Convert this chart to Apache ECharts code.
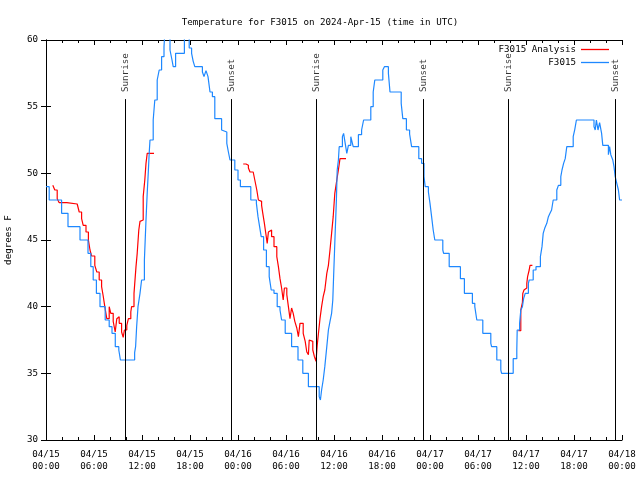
<!DOCTYPE html>
<html>
<head>
<meta charset="utf-8">
<script src="https://cdn.jsdelivr.net/npm/echarts@6/dist/echarts.min.js"></script>
<style>html,body{margin:0;padding:0;background:#fff}#c{width:640px;height:480px}</style>
</head>
<body>
<div id="c"></div>
<script>
// hours since 2024-04-15 00:00 UTC
var obsHours = [0.0,0.4,1.95,2.75,4.25,5.25,5.6,5.9,6.3,6.75,7.4,7.9,8.25,8.66,9.1,9.3,11.08,11.2,11.33,11.5,11.75,11.95,12.3,12.5,12.65,12.8,12.9,13.0,13.4,13.6,13.9,14.15,14.45,14.75,14.9,15.5,15.75,15.9,16.2,17.3,17.9,18.2,18.4,18.6,19.55,19.75,20.0,20.25,20.5,20.8,21.1,21.95,22.2,22.6,22.8,23.0,23.6,24.0,24.3,25.6,26.3,26.5,26.7,26.9,27.2,27.55,27.9,28.15,28.5,28.9,29.25,29.45,29.9,30.7,31.5,32.1,32.8,34.15,34.3,34.45,34.65,34.85,35.1,35.3,35.5,35.7,35.85,35.95,36.1,36.3,36.4,36.55,36.65,37.05,37.2,37.4,37.6,37.8,38.1,38.3,38.4,39.05,39.45,39.7,40.6,40.9,41.1,42.1,42.3,42.8,43.0,44.4,44.6,45.05,45.45,45.7,46.6,46.95,47.25,47.4,47.8,48.0,48.2,48.4,48.6,49.6,49.7,50.4,51.8,52.3,53.3,53.6,53.85,54.6,55.6,55.7,56.35,56.85,56.95,58.4,58.85,58.9,59.2,59.35,59.55,59.7,59.9,60.3,60.4,60.9,61.25,61.8,62.0,62.15,62.35,62.6,62.8,63.0,63.2,63.4,63.85,64.05,64.35,64.5,64.7,64.9,65.1,65.9,66.1,66.3,68.5,68.65,68.8,69.0,69.2,69.45,69.6,70.3,70.45,70.6,70.85,71.0,71.15,71.35,71.55,71.7,72.0];
var obsTemps = [49,48,47,46,45,44,43,42,41,40,39,38.5,38,37,36.75,36,36.55,37,38.5,40,41,42,43.5,46.5,48.5,50.25,51.5,52.5,54,55.5,57,57.75,58.75,59.5,61,59.25,58.5,58,59,61,59.4,59,58.4,58,57.6,57.25,57.7,57.25,56.1,55.75,54.1,53.25,53.1,52.25,51.6,51,50.25,49.5,49,48,47.75,46.75,46,45.25,44.25,43,42.25,41.25,41,40,39.75,39,38,37,36,35,34,33.25,33,33.75,34.5,35.5,37,38.25,38.9,39.5,40.5,42.25,44.75,48,50.25,51,52,52.75,53,52.25,51.5,52.1,52.75,52.25,52,52.9,53.25,54,55,56.1,57,57.75,58,57.5,56.1,55.25,54.1,53.25,52.95,52,51.1,50.75,49.75,49,48.6,47.75,46.75,45.75,45,44.25,44,43,42.1,41,40.25,40,39,38,37.25,37,36,35.25,35,36.1,36.75,38.25,38.75,39.75,40,40.6,41,41.75,42,42.75,43,43.75,44.5,45.5,45.9,46.25,46.75,47,47.25,48,48.75,49.1,49.75,50.25,50.75,51.1,52,52.75,53.3,54,53.5,53.25,54,53.25,53.8,53,52.1,51.4,52,51.4,51,50.5,49.75,49.25,48.75,48,48];

var anaHours = [0.85,1.1,1.4,1.65,2.6,3.9,4.15,4.45,4.65,5.0,5.3,5.5,5.7,6.1,6.35,6.65,6.95,7.15,7.35,7.6,7.9,8.1,8.4,8.65,8.85,9.0,9.15,9.45,9.65,9.8,10.1,10.3,10.6,10.7,11.0,11.25,11.4,11.6,11.75,11.95,12.15,12.35,12.5,12.65,12.9,
  13.5,
  24.65,25.0,25.3,25.5,25.9,26.1,26.35,26.55,26.75,26.95,27.1,27.3,27.45,27.65,27.8,28.0,28.2,28.5,28.85,29.05,29.25,29.45,29.65,29.8,30.0,30.1,30.3,30.5,30.7,30.9,31.1,31.35,31.55,31.75,31.95,32.15,32.4,32.6,32.8,32.9,33.1,33.35,33.55,33.75,33.9,34.1,34.25,34.45,34.65,34.85,35.1,35.3,35.5,35.7,35.9,36.1,36.35,36.55,36.75,36.95,
  37.5,
  59.05,59.35,59.55,59.6,59.75,59.95,60.1,60.2,60.4,60.5,60.8];
var anaTemps = [49.1,48.75,48.1,47.8,47.7,47.6,47.1,46.6,46.1,45.6,45,44.25,43.8,43.1,42.6,42,41.5,40.8,40,39.1,40,39.5,38.9,38.1,39.1,39.25,38.75,38.1,37.7,38.25,38.6,39.1,39.6,40,41,43,44,45.75,46.4,46.5,48.25,49.5,50.75,51.5,51.5,
  null,
  50.7,50.6,50.4,50.1,50,49.5,48.75,48,47.9,47.6,47,46.25,45.6,44.75,45.6,45.75,45.25,44.5,43.75,43,42.1,41.4,40.5,41.4,41.4,40.9,40,39.1,39.9,39.5,38.9,38.4,37.75,38.75,38.75,38,37.4,36.6,36.4,37.5,37.4,36.75,36.25,35.9,37.1,38.25,39.1,40,40.75,41.25,42.5,43.1,44.25,45.5,46.75,48.5,49.5,50.25,51.1,51.1,
  null,
  38.2,39.75,40.3,41,41.25,41.4,41.75,42.25,42.75,43.1,43.1];

var sunHours = [9.95, 23.15, 33.82, 47.17, 57.79, 71.2];
var sunNames = ['Sunrise','Sunset','Sunrise','Sunset','Sunrise','Sunset'];

var tickDates = ['04/15','04/15','04/15','04/15','04/16','04/16','04/16','04/16','04/17','04/17','04/17','04/17','04/18'];
var tickTimes = ['00:00','06:00','12:00','18:00','00:00','06:00','12:00','18:00','00:00','06:00','12:00','18:00','00:00'];

var FONT = 'DejaVu Sans Mono';
var obsData = obsHours.map(function(h,i){return [h, obsTemps[i]];});
var anaData = anaHours.map(function(h,i){return [h, anaTemps[i]];});
var sunLineData = sunHours.map(function(h){return [{coord:[h,30]},{coord:[h,55.57]}];});
var sunLabelData = sunHours.map(function(h,i){return [h, 56.1, sunNames[i]];});

var chart = echarts.init(document.getElementById('c'), null, {renderer:'canvas'});
var axisLine = {show:true, lineStyle:{color:'#000', width:1}};
var lineIcon = 'path://M0,0 L28,0 L28,1.3 L0,1.3 Z';
chart.setOption({
  animation:false,
  backgroundColor:'#fff',
  title:{text:'Temperature for F3015 on 2024-Apr-15 (time in UTC)', left:'center', top:13,
    textStyle:{fontFamily:FONT, fontSize:9.2, fontWeight:'normal', color:'#000'}},
  legend:{data:[{name:'F3015 Analysis', icon:lineIcon},{name:'F3015', icon:lineIcon}],
    orient:'vertical', align:'right', right:31, top:44,
    padding:0, itemGap:2, itemWidth:28, itemHeight:1.3,
    textStyle:{fontFamily:FONT, fontSize:9.2, color:'#000', lineHeight:11}},
  grid:{left:46, right:18, top:40, bottom:40, containLabel:false, outerBoundsMode:'none'},
  xAxis:[{type:'value', min:0, max:72, interval:6, position:'bottom',
      axisLine:axisLine, splitLine:{show:false},
      axisTick:{show:true, inside:true, length:5, lineStyle:{color:'#000'}},
      minorTick:{show:true, splitNumber:3, length:3, lineStyle:{color:'#000'}},
      axisLabel:{margin:9, fontFamily:FONT, fontSize:9.2, color:'#000', lineHeight:12,
        formatter:function(v){var i=Math.round(v/6); return tickDates[i]+'\n'+tickTimes[i];}}},
    {type:'value', min:0, max:72, interval:6, position:'top',
      axisLine:axisLine, splitLine:{show:false}, axisLabel:{show:false},
      axisTick:{show:true, inside:true, length:5, lineStyle:{color:'#000'}},
      minorTick:{show:true, splitNumber:3, length:3, lineStyle:{color:'#000'}}}],
  yAxis:[{type:'value', min:30, max:60, interval:5, position:'left',
      name:'degrees F', nameLocation:'middle', nameGap:33, nameRotate:90,
      nameTextStyle:{fontFamily:FONT, fontSize:9.2, color:'#000'},
      axisLine:axisLine, splitLine:{show:false},
      axisTick:{show:true, inside:true, length:5, lineStyle:{color:'#000'}},
      axisLabel:{margin:8, fontFamily:FONT, fontSize:9.2, color:'#000'}},
    {type:'value', min:30, max:60, interval:5, position:'right',
      axisLine:axisLine, splitLine:{show:false}, axisLabel:{show:false},
      axisTick:{show:true, inside:true, length:5, lineStyle:{color:'#000'}}}],
  series:[
    {name:'F3015 Analysis', type:'line', step:'end', data:anaData, showSymbol:false, symbol:'none',
      connectNulls:false, clip:true, lineStyle:{color:'#ff0000', width:1.2}, itemStyle:{color:'#ff0000'}, z:2},
    {name:'F3015', type:'line', step:'end', data:obsData, showSymbol:false, symbol:'none',
      clip:true, lineStyle:{color:'#1e88ff', width:1.2}, itemStyle:{color:'#1e88ff'}, z:3,
      markLine:{silent:true, symbol:['none','none'], label:{show:false},
        lineStyle:{color:'#000', width:1, type:'solid'}, emphasis:{disabled:true}, data:sunLineData}},
    {name:'sun', type:'scatter', data:sunLabelData, symbolSize:0, silent:true, z:4,
      label:{show:true, position:'inside', rotate:90, align:'left', verticalAlign:'middle',
        fontFamily:FONT, fontSize:9.2, color:'#000', formatter:function(p){return p.value[2];}}}
  ]
});
</script>
</body>
</html>
